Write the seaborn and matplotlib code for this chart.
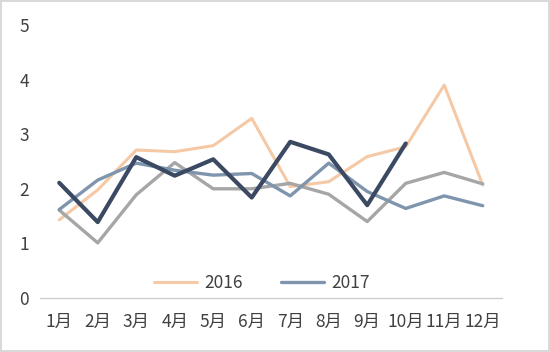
import matplotlib
matplotlib.use("Agg")
import matplotlib.pyplot as plt
import numpy as np
import pandas as pd
import seaborn as sns

months = ["1月", "2月", "3月", "4月", "5月", "6月", "7月", "8月", "9月", "10月", "11月", "12月"]
y2016 = [1.43, 1.98, 2.71, 2.68, 2.79, 3.29, 2.04, 2.13, 2.59, 2.77, 3.90, 2.07]
y2017 = [1.62, 2.16, 2.47, 2.34, 2.25, 2.28, 1.87, 2.47, 1.95, 1.64, 1.87, 1.69]
y_gray = [1.61, 1.01, 1.89, 2.48, 2.00, 2.00, 2.10, 1.90, 1.40, 2.10, 2.30, 2.09]
y_navy = [2.11, 1.39, 2.58, 2.24, 2.54, 1.84, 2.86, 2.63, 1.70, 2.83, np.nan, np.nan]

sns.set_style("white")
plt.rcParams["font.family"] = ["Noto Sans CJK SC", "DejaVu Sans"]

fig = plt.figure(figsize=(5.5, 3.52), dpi=100)
fig.patch.set_edgecolor("#D9D9D9")
fig.patch.set_linewidth(1.5)
ax = fig.add_axes([0.0727, 0.1534, 0.84, 0.7756])

x = np.arange(len(months))
series = [
    ("2016", y2016, "#F5C9A5", 2.2),
    ("_gray", y_gray, "#A6A6A6", 2.4),
    ("2017", y2017, "#7F95AE", 2.4),
    ("_navy", y_navy, "#3B4A62", 3.0),
]
for name, vals, col, lw in series:
    df = pd.DataFrame({"x": x, "y": vals}).dropna()
    sns.lineplot(data=df, x="x", y="y", color=col, lw=lw, ax=ax,
                 label=name if not name.startswith("_") else "_nolegend_",
                 legend=False)

ax.set_xlim(-0.5, 11.5)
ax.set_ylim(0, 5)
ax.set_xticks(x)
ax.set_xticklabels(months)
ax.set_yticks(range(6))
ax.set_xlabel("")
ax.set_ylabel("")
for s in ["top", "right", "left"]:
    ax.spines[s].set_visible(False)
ax.spines["bottom"].set_color("#D0D0D0")
ax.spines["bottom"].set_linewidth(1)
ax.tick_params(axis="both", length=0, labelsize=12.5, colors="#404040")
ax.tick_params(axis="x", pad=11)
ax.tick_params(axis="y", pad=8)

handles, labels = ax.get_legend_handles_labels()
fig.legend(handles, labels, loc="center", bbox_to_anchor=(262 / 550, 1 - 283 / 352),
           ncol=2, frameon=False, fontsize=12.5, handlelength=2.5, handletextpad=0.4,
           columnspacing=2.2, labelcolor="#404040")

fig.savefig("out.png", dpi=100)
